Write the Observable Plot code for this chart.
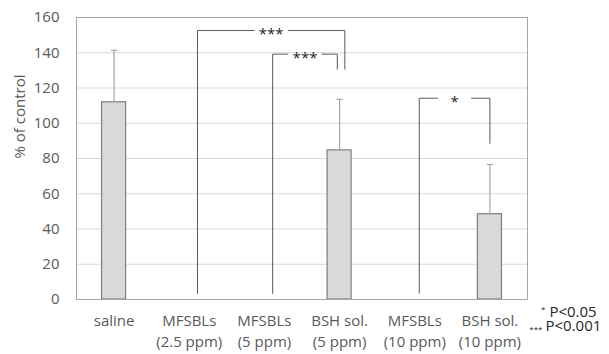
<!DOCTYPE html>
<html><head><meta charset="utf-8">
<script src="https://cdn.jsdelivr.net/npm/d3@7"></script>
<script src="https://cdn.jsdelivr.net/npm/@observablehq/plot@0.6"></script>
<style>body{margin:0;background:#fff;}</style>
</head><body><div id="chart"></div>
<script>
// Groups (x tick labels, two lines each)
const categories = ["saline", "MFSBLs\n(2.5 ppm)", "MFSBLs\n(5 ppm)", "BSH sol.\n(5 ppm)", "MFSBLs\n(10 ppm)", "BSH sol.\n(10 ppm)"];
// % of control (mean) and upper error (SD)
const means = [111.9, 0, 0, 84.6, 0, 48.4];
const errors = [29.5, 0, 0, 29.0, 0, 28.2];
const yTicks = [0, 20, 40, 60, 80, 100, 120, 140, 160];

// Significance brackets (x in group index units, y in % of control)
const bracketFrom = [1.11, 2.11, 4.06];
const bracketTo = [3.07, 2.97, 5.0];
const bracketTop = [152.6, 139.2, 114.2];
const bracketLeftEnd = [3.4, 3.4, 3.6];
const bracketRightEnd = [130.7, 130.7, 88.6];
const bracketLabel = ["***", "***", "*"];

// Legend
const legendMarks = ["*", "***"];
const legendText = ["P<0.05", "P<0.001"];

const data = categories.map((c, i) => ({i, c, mean: means[i], err: errors[i]}));
const bracketPts = [];
bracketFrom.forEach((f, k) => {
  const t = bracketTo[k], m = (f + t) / 2, top = bracketTop[k];
  // left half (ends at label gap) and right half (starts after label gap)
  bracketPts.push({z: k + "L", x: f, y: bracketLeftEnd[k], g: 0}, {z: k + "L", x: f, y: top, g: 0}, {z: k + "L", x: m, y: top, g: -1},
                  {z: k + "R", x: m, y: top, g: 1}, {z: k + "R", x: t, y: top, g: 0}, {z: k + "R", x: t, y: bracketRightEnd[k], g: 0});
});
const bracketLabels = bracketLabel.map((s, k) => ({s, x: (bracketFrom[k] + bracketTo[k]) / 2, y: bracketTop[k]}));

const hw = 0.16;   // half bar width (group units)
const cap = 0.04;  // half cap width
const gapHalf = 17; // px
const gray = "#595959";

const chart = Plot.plot({
  width: 609,
  height: 354,
  marginLeft: 76,
  marginRight: 82,
  marginTop: 17,
  marginBottom: 55,
  style: {fontFamily: "'Open Sans', sans-serif", fontSize: "15px", background: "#fff"},
  x: {type: "linear", domain: [-0.5, categories.length - 0.5]},
  y: {domain: [0, 160]},
  marks: [
    Plot.gridY(yTicks.filter(d => d > 0 && d < 160), {stroke: "#d9d9d9", strokeOpacity: 1}),
    Plot.frame({stroke: "#a6a6a6"}),
    Plot.rectY(data.filter(d => d.mean > 0), {x1: d => d.i - hw, x2: d => d.i + hw, y1: 0, y2: "mean", fill: "#d9d9d9", stroke: "#7f7f7f", strokeWidth: 1.2}),
    Plot.ruleX(data.filter(d => d.err > 0), {x: "i", y1: "mean", y2: d => d.mean + d.err, stroke: "#a6a6a6", strokeWidth: 1.2}),
    Plot.link(data.filter(d => d.err > 0), {x1: d => d.i - cap, x2: d => d.i + cap, y1: d => d.mean + d.err, y2: d => d.mean + d.err, stroke: "#a6a6a6", strokeWidth: 1.2}),
    Plot.ruleY([0], {stroke: "#a6a6a6", strokeWidth: 1.2}),
    Plot.line(bracketPts, {x: "x", y: "y", z: "z", stroke: gray, strokeWidth: 1,
      render: (index, scales, values, dims, context, next) => {
        const X = Array.from(values.x);
        for (let i = 0; i < X.length; ++i) X[i] += bracketPts[i].g * gapHalf;
        return next(index, scales, {...values, x: X}, dims, context);
      }}),
    Plot.text(bracketLabels, {x: "x", y: "y", text: "s", fill: "#262626", fontSize: 15, dy: 4}),
    Plot.axisY({ticks: yTicks, tickSize: 0, tickPadding: 17, label: null, fill: gray, fontSize: 15}),
    Plot.axisX({ticks: d3.range(categories.length), tickFormat: i => categories[i], tickSize: 0, tickPadding: 12, label: null, fill: gray, fontSize: 15, lineHeight: 1.4, lineAnchor: "top"}),
    Plot.text(["% of control"], {frameAnchor: "left", text: d => d, rotate: -90, dx: -56, lineAnchor: "middle", fill: gray, fontSize: 15}),
    Plot.text([legendMarks[0]], {frameAnchor: "bottom-right", text: d => d, textAnchor: "end", lineAnchor: "middle", dx: 18, dy: 10, fontSize: 8, fill: "#262626"}),
    Plot.text([legendMarks[1]], {frameAnchor: "bottom-right", text: d => d, textAnchor: "end", lineAnchor: "middle", dx: 15, dy: 30, fontSize: 8, fill: "#262626"}),
    Plot.text([legendText], {frameAnchor: "bottom-right", text: d => "\u00a0" + d[0] + "\n" + d[1], textAnchor: "start", lineAnchor: "middle", lineHeight: 0.97, dx: 18, dy: 20, fontSize: 15, fill: "#262626"})
  ]
});
document.getElementById("chart").appendChild(chart);
</script>
</body></html>
